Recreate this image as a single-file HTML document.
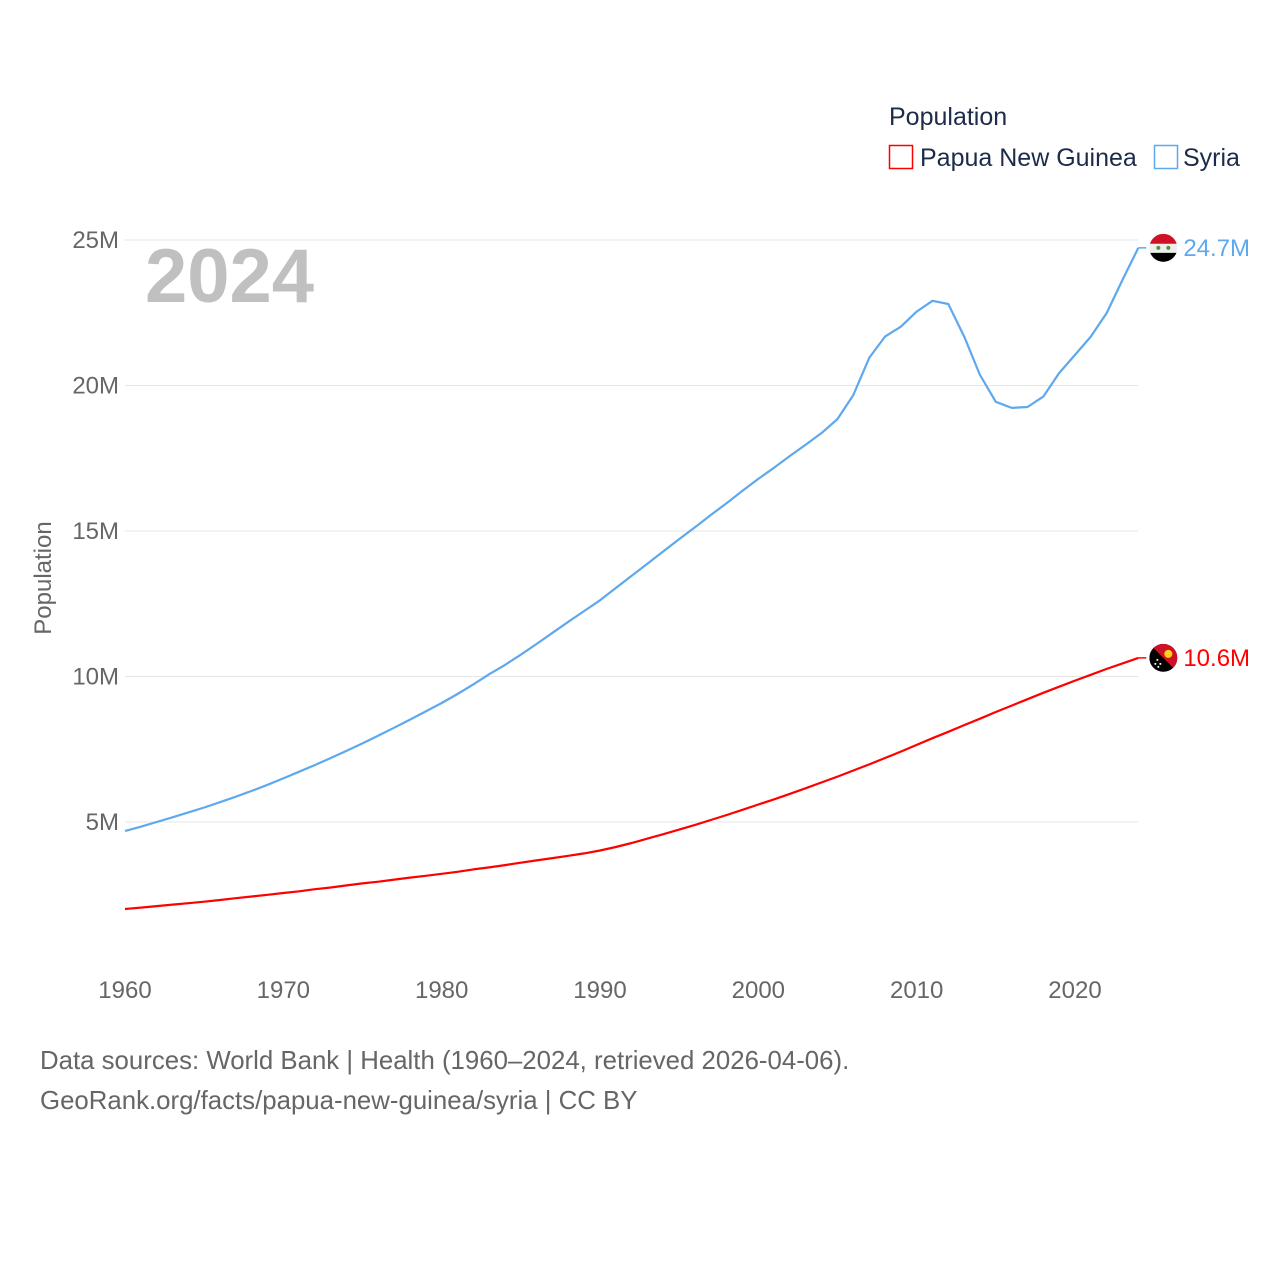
<!DOCTYPE html>
<html><head><meta charset="utf-8"><style>
body{margin:0;background:#fff;font-family:"Liberation Sans",sans-serif}
svg text{font-family:"Liberation Sans",sans-serif}
</style></head><body>
<svg id="c" width="1280" height="1280" viewBox="0 0 1280 1280">
<text x="889" y="125" font-size="25" fill="#1c2b4a">Population</text>
<g><rect x="889.5" y="145.5" width="23" height="23" fill="none" stroke="#f00" stroke-width="1.5"/><text x="920" y="166" font-size="25" fill="#1c2b4a">Papua New Guinea</text></g>
<g><rect x="1154.5" y="145.5" width="23" height="23" fill="none" stroke="#5ea8ee" stroke-width="1.5"/><text x="1183" y="166" font-size="25" fill="#1c2b4a">Syria</text></g>
<text x="145" y="302" font-size="76" font-weight="bold" fill="#c0c0c0">2024</text>
<text transform="translate(51,578) rotate(-90)" text-anchor="middle" font-size="24" fill="#666">Population</text>
<g id="grid"></g><g id="series"></g><g id="ends"></g>
<text x="40" y="1069" font-size="25.8" fill="#666">Data sources: World Bank | Health (1960–2024, retrieved 2026-04-06).</text>
<text x="40" y="1109" font-size="25.8" fill="#666">GeoRank.org/facts/papua-new-guinea/syria | CC BY</text>
</svg>
<script>
const years=[];for(let y=1960;y<=2024;y++)years.push(y);
const syria=[4.69,4.84,5.0,5.16,5.33,5.5,5.68,5.87,6.07,6.28,6.5,6.73,6.96,7.2,7.45,7.7,7.97,8.24,8.52,8.8,9.09,9.4,9.73,10.08,10.4,10.75,11.12,11.5,11.88,12.25,12.62,13.04,13.46,13.88,14.3,14.72,15.13,15.55,15.96,16.38,16.79,17.18,17.58,17.97,18.37,18.85,19.67,20.95,21.68,22.02,22.54,22.91,22.8,21.68,20.36,19.44,19.23,19.26,19.62,20.43,21.05,21.68,22.49,23.63,24.73];
const png=[2.01,2.06,2.11,2.16,2.21,2.26,2.32,2.38,2.44,2.5,2.56,2.62,2.69,2.75,2.82,2.89,2.95,3.02,3.09,3.15,3.22,3.29,3.37,3.44,3.52,3.6,3.68,3.76,3.84,3.92,4.02,4.14,4.28,4.43,4.58,4.74,4.9,5.07,5.24,5.42,5.6,5.78,5.97,6.16,6.36,6.56,6.77,6.98,7.2,7.42,7.65,7.88,8.1,8.33,8.55,8.78,9.0,9.22,9.44,9.65,9.86,10.06,10.26,10.45,10.64];
const yTicks=[5,10,15,20,25];
const yTickLabels=["5M","10M","15M","20M","25M"];
const xTicks=[1960,1970,1980,1990,2000,2010,2020];
const NS="http://www.w3.org/2000/svg";
const X=y=>125+(y-1960)*(950/60);
const Y=v=>967.5-v*29.1;
function mk(t,a,p){const e=document.createElementNS(NS,t);for(const k in a)e.setAttribute(k,a[k]);p.appendChild(e);return e;}
const g=document.getElementById('grid');
yTicks.forEach((v,i)=>{
 const l=mk('line',{x1:125,x2:1138,y1:Y(v),y2:Y(v),stroke:'#e6e6e6','stroke-width':1},g);
 
 
 const t=mk('text',{x:119,y:Y(v)+8,'text-anchor':'end','font-size':24,fill:'#666'},g);t.textContent=yTickLabels[i];
 
 
});
xTicks.forEach(yr=>{
 const t=mk('text',{x:X(yr),y:998,'text-anchor':'middle','font-size':24,fill:'#666'},g);t.textContent=yr;
 
 
});
const s=document.getElementById('series');
function line(d,c,n){const p=mk('path',{d:d.map((v,i)=>(i?'L':'M')+X(years[i]).toFixed(1)+','+Y(v).toFixed(1)).join(''),fill:'none',stroke:c,'stroke-width':2.2,'stroke-linejoin':'round'},s);
 
 }
line(syria,'#5ea8ee','syria-line');line(png,'#f00','png-line');
const e=document.getElementById('ends');
function end(d,c,lab,n,flag){const x=X(2024),y=Y(d[d.length-1]);
 mk('line',{x1:x,x2:x+8,y1:y,y2:y,stroke:c,'stroke-width':1.5},e);
 const grp=mk('g',{},e);
 flag(grp,x+25,y);
 const t=mk('text',{x:x+45,y:y+8,'font-size':24,fill:c},e);t.textContent=lab;
 
 }
end(syria,'#5ea8ee','24.7M','syria',(p,cx,cy)=>{
 const cs=mk('clipPath',{id:'cs'},p);mk('circle',{cx:cx,cy:cy,r:14},cs);
 const gg=mk('g',{'clip-path':'url(#cs)'},p);
 mk('rect',{x:cx-14,y:cy-14,width:28,height:10,fill:'#ce1126'},gg);
 mk('rect',{x:cx-14,y:cy-4,width:28,height:9,fill:'#eee'},gg);
 mk('rect',{x:cx-14,y:cy+5,width:28,height:10,fill:'#000'},gg);
 mk('circle',{cx:cx-5,cy:cy,r:2,fill:'#4a9a3a'},gg);mk('circle',{cx:cx+5,cy:cy,r:2,fill:'#4a9a3a'},gg);});
end(png,'#f00','10.6M','png',(p,cx,cy)=>{
 const cp=mk('clipPath',{id:'cp'},p);mk('circle',{cx:cx,cy:cy,r:14},cp);
 const gg=mk('g',{'clip-path':'url(#cp)'},p);
 mk('rect',{x:cx-14,y:cy-14,width:28,height:28,fill:'#000'},gg);
 mk('polygon',{points:`${cx-14},${cy-14} ${cx+14},${cy-14} ${cx+14},${cy+14}`,fill:'#ce1126'},gg);
 mk('circle',{cx:cx+5,cy:cy-4,r:4,fill:'#fcd116'},gg);
 [[-6,2],[-3,6],[-8,6],[-5,9]].forEach(o=>mk('circle',{cx:cx+o[0],cy:cy+o[1],r:1,fill:'#fff'},gg));});
</script>
</body></html>
